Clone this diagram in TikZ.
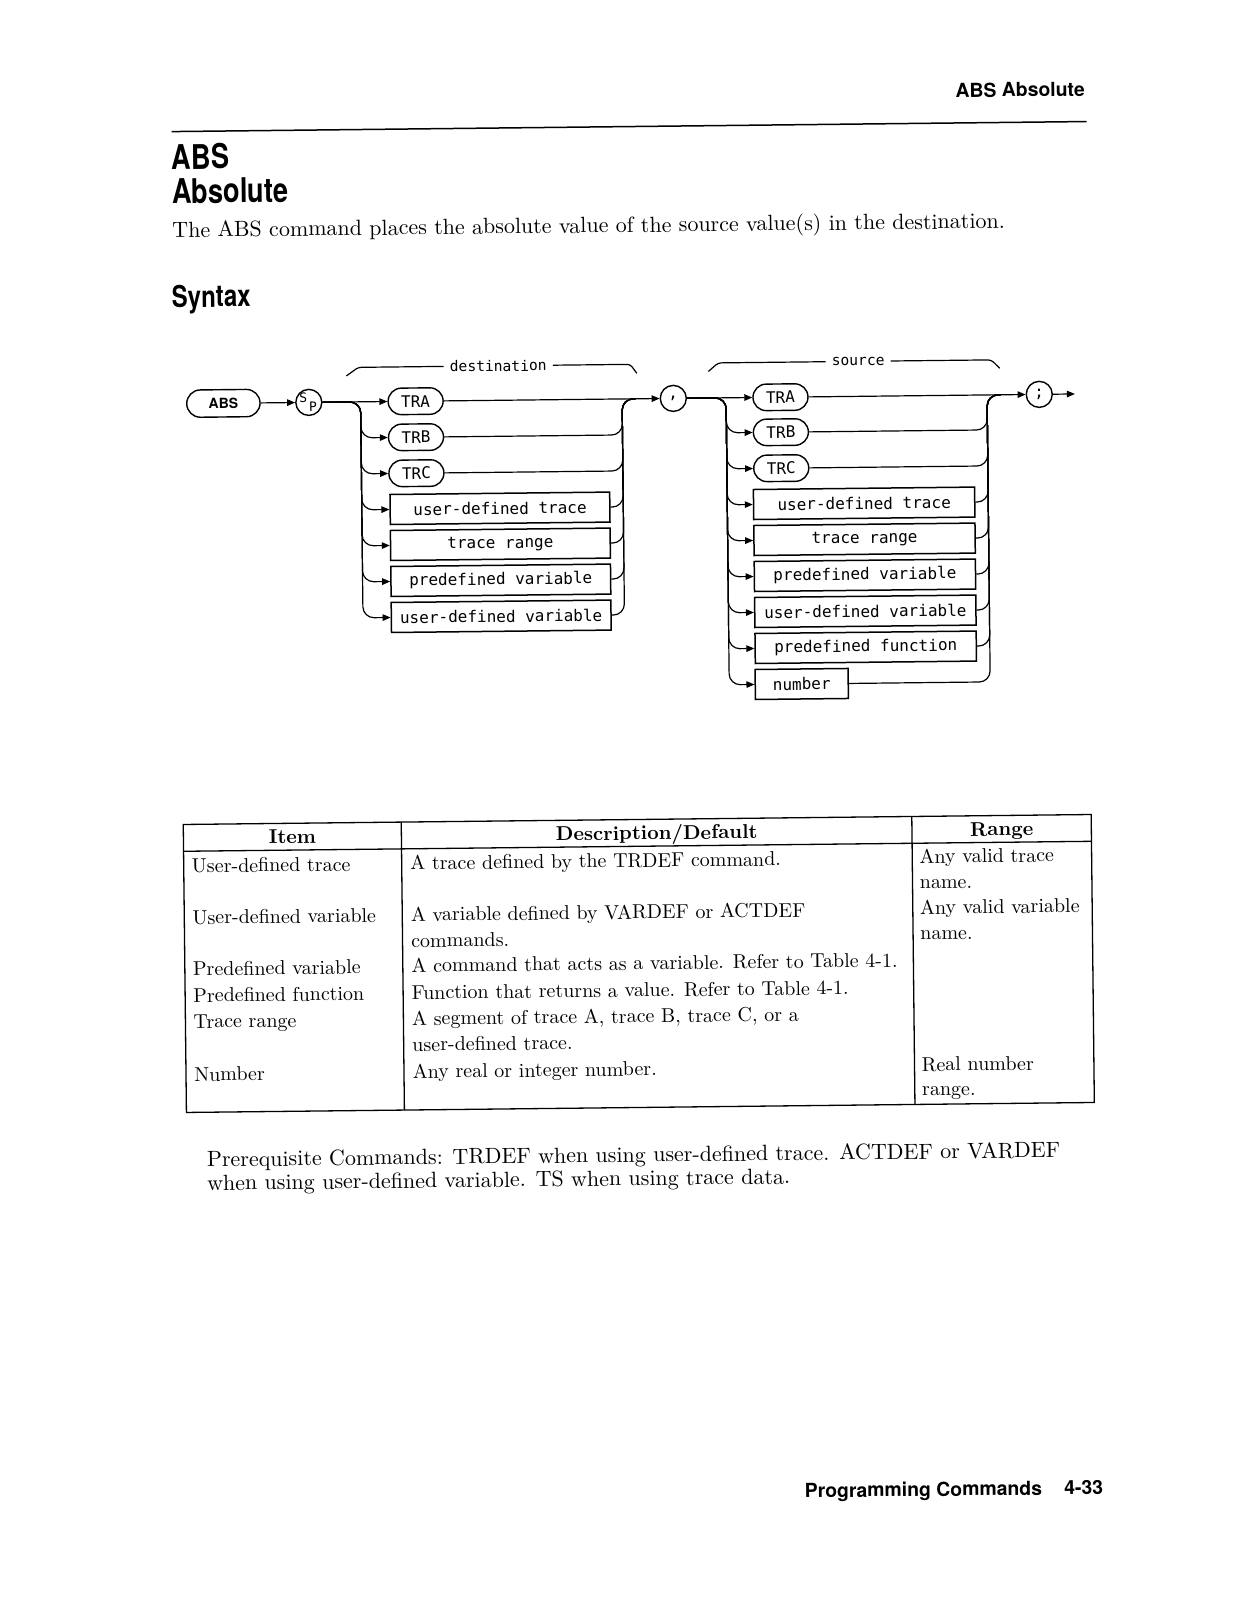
\documentclass[tikz,border=0pt]{standalone}
\usepackage{fontspec}
\usepackage{graphicx}
\usetikzlibrary{arrows.meta,shapes.misc,calc}
\newfontfamily\hvfont{TeX Gyre Heros}
\newfontfamily\hvcond{TeX Gyre Heros}[FakeStretch=0.8]
\newfontfamily\plotfont{DejaVu Sans Mono}
\newcommand\cmx[1]{\scalebox{2}{#1}}
\newcommand\cmy[1]{\scalebox{2.2}{#1}}
\tikzset{
  conn/.style={line width=1.2pt},
  arr/.style={conn,-{Triangle[length=8pt,width=6.5pt]}},
  pill/.style={draw, line width=1.4pt, rounded rectangle, minimum width=55pt, minimum height=26.5pt, inner sep=0pt, font=\plotfont\fontsize{16}{16}\selectfont},
  kbox/.style={draw, line width=1.5pt, rectangle, minimum height=30pt, inner sep=0pt, font=\plotfont\fontsize{16}{16}\selectfont},
  kcirc/.style={draw, line width=1.4pt, circle, minimum size=26pt, inner sep=0pt, font=\plotfont\fontsize{16}{16}\selectfont},
  brlab/.style={inner xsep=6pt, inner ysep=0pt, font=\plotfont\fontsize{14.6}{14.6}\selectfont},
  txt/.style={inner sep=0pt, anchor=base west},
  tbl/.style={line width=1.3pt},
  hdr/.style={inner sep=0pt, font=\hvfont\bfseries\fontsize{19.4}{19.4}\selectfont},
}
\begin{document}
\begin{tikzpicture}[x=1pt,y=-1pt]
\fill[white] (0,0) rectangle (1237,1600);
\useasboundingbox (0,0) rectangle (1237,1600);
\begin{scope}[rotate around={0.63:(618,800)}, transform shape]
% page header
\node[hdr, anchor=base east] (head) at (1092.7,101.1) {ABS Absolute};
\draw[line width=1.5pt] (179,126.7) -- (1094,126.7);
\node[txt, font=\hvcond\bfseries\fontsize{34}{31.1}\selectfont] (title) at (178.6,164.4)
  {\begin{tabular}[t]{@{}l@{}}ABS\\Absolute\end{tabular}};
\node[txt] (body) at (178.4,232.5) {\cmy{The ABS command places the absolute value of the source value(s) in the destination.}};
\node[txt, font=\hvcond\bfseries\fontsize{30}{30}\selectfont] (syntax) at (177.2,302.5) {Syntax};

% ---------------- syntax diagram: destination ----------------
\node[pill, minimum width=73.3pt, minimum height=27.3pt, font=\hvfont\bfseries\fontsize{14}{14}\selectfont] (abs) at (227.75,399) {ABS};
\node[kcirc] (sp) at (313.2,399) {};
\node[inner sep=0pt, font=\plotfont\fontsize{13}{13}\selectfont] (spS) at ($(sp)+(-5.5,-4.5)$) {S};
\node[inner sep=0pt, font=\plotfont\fontsize{13}{13}\selectfont] (spP) at ($(sp)+(4,4)$) {P};
\node[pill] (tra) at (420,399) {TRA};
\node[pill] (trb) at (420,435) {TRB};
\node[pill] (trc) at (420,471) {TRC};
\node[kbox, minimum width=219.7pt] (d1) at (503.2,507) {user-defined trace};
\node[kbox, minimum width=219.7pt] (d2) at (503.2,543) {trace range};
\node[kbox, minimum width=219.7pt] (d3) at (503.2,579) {predefined variable};
\node[kbox, minimum width=219.7pt] (d4) at (503.2,615) {user-defined variable};
\node[kcirc] (comma) at (677.7,399) {,};

\draw[arr] (abs) -- (sp);
\draw[arr] (sp.east) -- (tra.west);
\draw[arr] (tra.east) -- (comma.west);
\foreach \n/\y in {trb/435,trc/471,d1/507,d2/543,d3/579,d4/615}{
  \draw[arr, rounded corners=11pt] (sp.east) -| (365,\y) -- (\n.west);
  \draw[conn, rounded corners=11pt] (\n.east) -| (626.5,399) -- (640,399);
}
% destination brace
\node[brlab] (dest) at (503,364.5) {destination};
\draw[conn, rounded corners=3pt] (351,373) -- (363,364.5) -- (dest.west);
\draw[conn, rounded corners=3pt] (dest.east) -- (635,364.5) -- (641.5,373.5);

% ---------------- syntax diagram: source ----------------
\node[pill] (stra) at (784.9,399) {TRA};
\node[pill] (strb) at (784.9,434) {TRB};
\node[pill] (strc) at (784.9,470) {TRC};
\node[kbox, minimum width=221.2pt] (s1) at (867.4,506) {user-defined trace};
\node[kbox, minimum width=221.2pt] (s2) at (867.4,542) {trace range};
\node[kbox, minimum width=221.2pt] (s3) at (867.4,578) {predefined variable};
\node[kbox, minimum width=221.2pt] (s4) at (867.4,614) {user-defined variable};
\node[kbox, minimum width=221.2pt] (s5) at (867.4,650) {predefined function};
\node[kbox, minimum width=93pt] (s6) at (803,686) {number};
\node[kcirc] (semi) at (1043.7,399) {;};
\coordinate (exitpt) at (1079.4,399);

\draw[arr] (comma.east) -- (stra.west);
\draw[arr] (stra.east) -- (semi.west);
\draw[arr] (semi.east) -- (exitpt);
\foreach \n/\y in {strb/434,strc/470,s1/506,s2/542,s3/578,s4/614,s5/650,s6/686}{
  \draw[arr, rounded corners=11pt] (comma.east) -| (730.5,\y) -- (\n.west);
  \draw[conn, rounded corners=11pt] (\n.east) -| (991.5,399) -- (1005,399);
}
% source brace
\node[brlab] (src) at (863,364) {source};
\draw[conn, rounded corners=3pt] (713,372.5) -- (723,364) -- (src.west);
\draw[conn, rounded corners=3pt] (src.east) -- (996,364) -- (1004.5,372.5);

% ---------------- table ----------------
\draw[tbl] (183,819.7) rectangle (1091,1107.7);
\draw[tbl] (183,846.5) -- (1091,846.5);
\draw[tbl] (401,819.7) -- (401,1107.7);
\draw[tbl] (911.6,819.7) -- (911.6,1107.7);
\node[inner sep=0pt, anchor=base] (tI) at (292,840) {\cmx{\textbf{Item}}};
\node[inner sep=0pt, anchor=base] (tD) at (656.3,840) {\cmx{\textbf{Description/Default}}};
\node[inner sep=0pt, anchor=base] (tR) at (1001.3,840) {\cmx{\textbf{Range}}};

\node[txt] (i1) at (191,868) {\cmx{User-defined trace}};
\node[txt] (i2) at (191,919.5) {\cmx{User-defined variable}};
\node[txt] (i3) at (191,971) {\cmx{Predefined variable}};
\node[txt] (i4) at (191,997.5) {\cmx{Predefined function}};
\node[txt] (i5) at (191,1023.5) {\cmx{Trace range}};
\node[txt] (i6) at (191,1076.5) {\cmx{Number}};

\node[txt] (m1) at (409.5,867.5) {\cmx{A trace defined by the TRDEF command.}};
\node[txt] (m2) at (409.5,919) {\cmx{A variable defined by VARDEF or ACTDEF}};
\node[txt] (m3) at (409.5,945) {\cmx{commands.}};
\node[txt] (m4) at (409.5,970) {\cmx{A command that acts as a variable. Refer to Table 4-1.}};
\node[txt] (m5) at (409.5,997) {\cmx{Function that returns a value. Refer to Table 4-1.}};
\node[txt] (m6) at (409.5,1023) {\cmx{A segment of trace A, trace B, trace C, or a}};
\node[txt] (m7) at (409.5,1049) {\cmx{user-defined trace.}};
\node[txt] (m8) at (409.5,1076) {\cmx{Any real or integer number.}};

\node[txt] (r1) at (918.7,866.5) {\cmx{Any valid trace}};
\node[txt] (r2) at (918.7,892) {\cmx{name.}};
\node[txt] (r3) at (918.7,917.5) {\cmx{Any valid variable}};
\node[txt] (r4) at (918.7,943) {\cmx{name.}};
\node[txt] (r5) at (918.7,1074.5) {\cmx{Real number}};
\node[txt] (r6) at (918.7,1099) {\cmx{range.}};

% prerequisites
\node[txt] (pre) at (202.8,1162.3) {\cmy{\renewcommand\arraystretch{0.89}\begin{tabular}[t]{@{}l@{}}Prerequisite Commands: TRDEF when using user-defined trace. ACTDEF or VARDEF\\when using user-defined variable. TS when using trace data.\end{tabular}}};

% footer
\node[hdr, anchor=base west] (foot1) at (797,1499.7) {Programming Commands};
\node[hdr, anchor=base east] (foot2) at (1095.7,1499.7) {4-33};
\end{scope}
\end{tikzpicture}
\end{document}
